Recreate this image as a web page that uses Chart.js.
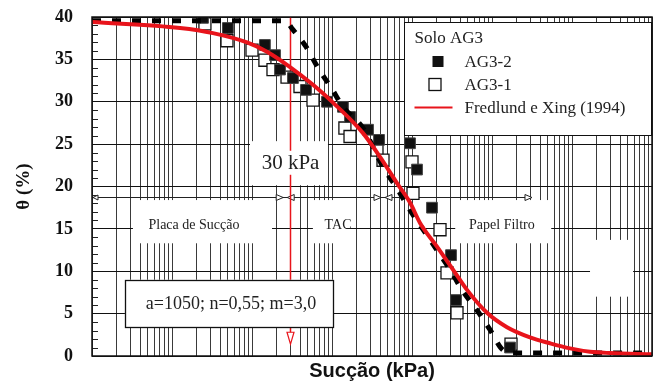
<!DOCTYPE html>
<html><head><meta charset="utf-8">
<script src="https://cdn.jsdelivr.net/npm/chart.js@4"></script>
<style>html,body{margin:0;padding:0;background:#fff;}#wrap{width:656px;height:383px;}</style>
</head><body><div id="wrap"><canvas id="c" width="656" height="383"></canvas></div>
<script>
// ---- data ----
const suctionAG32 = [2.44, 5.0, 14.5, 19.4, 22.4, 32.5, 47.3, 86.6, 137, 168, 282, 387, 944, 1155, 1778, 3073, 3548, 16800];
const thetaAG32   = [39.9, 38.7, 36.7, 35.5, 33.8, 32.8, 31.4, 30.0, 29.4, 28.2, 26.7, 25.5, 25.1, 22.0, 17.5, 11.9, 6.6, 1.0];
const suctionAG31 = [2.58, 4.87, 10, 14.5, 18.3, 27.4, 39.8, 57.9, 145, 168, 365, 434, 1000, 1029, 2239, 2738, 3652, 17280];
const thetaAG31   = [39.2, 37.2, 36.1, 34.9, 33.8, 32.9, 31.8, 30.2, 26.9, 25.9, 24.3, 23.1, 22.9, 19.2, 14.9, 9.8, 5.1, 1.4];
const suctionFX = [0.1, 1.26, 3.25, 8.66, 15.4, 29.9, 57.9, 103, 244, 398, 649, 944, 1259, 2054, 3254, 4870, 8660, 15400, 29854, 53100, 94400, 168000, 298500, 1000000];
const thetaFX   = [39.4, 38.7, 38.1, 37.0, 35.9, 34.1, 32.0, 29.9, 26.3, 23.5, 20.4, 18.1, 15.7, 12.9, 10.2, 7.8, 5.1, 3.4, 2.2, 1.5, 0.9, 0.5, 0.35, 0.2];
const suctionDash = [0.1, 25.8, 32.5, 47.3, 66.8, 100, 137, 244, 434, 668, 944, 1454, 2054, 2985, 4217, 6494, 9441, 13725, 19400, 1000000];
const thetaDash   = [39.55, 39.55, 38.5, 36.5, 34.0, 31.5, 29.4, 26.9, 22.3, 19.6, 17.2, 14.6, 12.5, 10.2, 7.8, 5.4, 3.1, 0.7, 0.35, 0.35];
const yTickValues = [0, 5, 10, 15, 20, 25, 30, 35, 40];
const xDecades = [0.1, 1, 10, 100, 1000, 10000, 100000];
const xMultipliers = [1, 2, 3, 4, 5, 6, 7, 8, 9];
const rangeBounds = [0.1, 26, 434, 31600];
const rangeLabels = ['Placa de Sucção', 'TAC', 'Papel Filtro'];
const rangeLabelAt = [1.88, 119, 13300];
const markSuction = 30;
const markLabel = '30 kPa';
const paramText = 'a=1050; n=0,55; m=3,0';
const legendTitle = 'Solo AG3';

const toPts = (xs, ys) => xs.map((v, i) => ({x: v, y: ys[i]}));
const xGrid = [];
xDecades.forEach(d => xMultipliers.forEach(m => xGrid.push(+(d * m).toPrecision(3))));
xGrid.push(1000000);

const SERIF = '"Liberation Serif", "Times New Roman", serif';

function tri(ctx, xTip, yc, dir, len, half) {
  ctx.beginPath();
  ctx.moveTo(xTip, yc);
  ctx.lineTo(xTip - dir * len, yc - half);
  ctx.lineTo(xTip - dir * len, yc + half);
  ctx.closePath();
  ctx.fillStyle = '#fff'; ctx.fill(); ctx.stroke();
}

const overlay = {
  id: 'overlay',
  beforeDatasetsDraw(chart) {
    const {ctx, chartArea: a, scales: {x, y}} = chart;
    const X = v => x.getPixelForValue(v), Y = v => y.getPixelForValue(v);
    ctx.save();
    // minor y ticks
    ctx.strokeStyle = '#222'; ctx.lineWidth = 1;
    for (let v = 1; v < 40; v++) {
      if (v % 5 === 0) continue;
      const py = Math.round(Y(v)) + 0.5;
      ctx.beginPath(); ctx.moveTo(a.left, py); ctx.lineTo(a.left + 6, py); ctx.stroke();
    }
    // white patches behind annotation texts
    ctx.fillStyle = '#fff';
    const rect = (x0, x1, t0, t1) => ctx.fillRect(X(x0), Y(t1), X(x1) - X(x0), Y(t0) - Y(t1));
    rect(9.44, 89, 20.15, 25.35);          // 30 kPa area
    rect(0.325, 17.8, 13.3, 18.4);         // Placa de Sucção
    rect(57.7, 150, 13.3, 18.4);           // TAC
    rect(3470, 55000, 13.3, 18.4);         // Papel Filtro
    rect(168000, 580000, 7.0, 13.7);       // blank area right
    // horizontal ranges line with arrows
    const ay = Math.round(Y(18.8)) + 0.5;
    ctx.strokeStyle = '#222'; ctx.lineWidth = 1;
    ctx.beginPath(); ctx.moveTo(a.left, ay); ctx.lineTo(X(rangeBounds[3]), ay); ctx.stroke();
    tri(ctx, a.left + 1, ay, -1, 5, 2.5);
    [rangeBounds[1], rangeBounds[2]].forEach(b => {
      const bx = X(b);
      tri(ctx, bx - 2, ay, 1, 7, 3);
      tri(ctx, bx + 2, ay, -1, 7, 3);
    });
    tri(ctx, X(rangeBounds[3]), ay, 1, 7, 3);
    // red vertical line at 30 kPa
    const mx = Math.round(X(markSuction)) + 0.5;
    ctx.strokeStyle = '#e8141b'; ctx.lineWidth = 1.5;
    ctx.beginPath(); ctx.moveTo(mx, a.top); ctx.lineTo(mx, Y(2.8)); ctx.stroke();
    ctx.lineWidth = 1.2;
    ctx.beginPath();
    ctx.moveTo(mx - 3.5, Y(2.8)); ctx.lineTo(mx + 3.5, Y(2.8)); ctx.lineTo(mx, Y(1.4)); ctx.closePath();
    ctx.fillStyle = '#fff'; ctx.fill(); ctx.stroke();
    // 30 kPa label
    ctx.font = '21px ' + SERIF;
    ctx.textAlign = 'center'; ctx.textBaseline = 'middle';
    const tw = ctx.measureText(markLabel).width;
    ctx.fillStyle = '#fff';
    ctx.fillRect(mx - tw / 2 - 3, Y(22.8) - 12, tw + 6, 24);
    ctx.fillStyle = '#222';
    ctx.fillText(markLabel, mx, Y(22.8) + 1);
    // range labels
    ctx.font = '14px ' + SERIF;
    rangeLabels.forEach((t, i) => ctx.fillText(t, X(rangeLabelAt[i]), Y(15.5) + 1));
    // parameter box
    const bx0 = X(0.258), bx1 = X(103), by0 = Y(9.0), by1 = Y(3.4);
    ctx.fillStyle = '#fff';
    ctx.fillRect(bx0, by0, bx1 - bx0, by1 - by0);
    ctx.strokeStyle = '#111'; ctx.lineWidth = 1.3;
    ctx.strokeRect(Math.round(bx0) + 0.5, Math.round(by0) + 0.5, Math.round(bx1 - bx0), Math.round(by1 - by0));
    ctx.fillStyle = '#222';
    ctx.font = '18px ' + SERIF;
    ctx.fillText(paramText, (bx0 + bx1) / 2 + 2, (by0 + by1) / 2 + 1);
    ctx.restore();
  },
  afterDatasetsDraw(chart) {
    const {ctx, chartArea: a, scales: {x, y}} = chart;
    const X = v => x.getPixelForValue(v), Y = v => y.getPixelForValue(v);
    const ds = chart.data.datasets;
    ctx.save();
    // legend box
    const lx0 = Math.round(X(794)) + 0.5, lx1 = a.right - 0.5, ly0 = Math.round(Y(39.4)) + 0.5, ly1 = Math.round(Y(26.1)) + 0.5;
    ctx.fillStyle = '#fff';
    ctx.fillRect(lx0, ly0, lx1 - lx0, ly1 - ly0);
    ctx.strokeStyle = '#111'; ctx.lineWidth = 1;
    ctx.strokeRect(lx0, ly0, lx1 - lx0, ly1 - ly0);
    ctx.fillStyle = '#222'; ctx.textAlign = 'left'; ctx.textBaseline = 'middle';
    ctx.font = '17px ' + SERIF;
    ctx.fillText(legendTitle, lx0 + 10, ly0 + 16);
    const rows = [ds[2], ds[3], ds[0]];
    rows.forEach((d, i) => {
      const ry = ly0 + 39 + i * 23;
      if (i === 0) {
        ctx.fillStyle = d.backgroundColor; ctx.fillRect(lx0 + 28, ry - 5.5, 11, 11);
      } else if (i === 1) {
        ctx.fillStyle = '#fff'; ctx.strokeStyle = d.borderColor; ctx.lineWidth = 1.3;
        ctx.fillRect(lx0 + 24, ry - 6.5, 13, 13); ctx.strokeRect(lx0 + 24.5, ry - 6, 12, 12);
      } else {
        ctx.strokeStyle = d.borderColor; ctx.lineWidth = 2;
        ctx.beginPath(); ctx.moveTo(lx0 + 10, ry); ctx.lineTo(lx0 + 48, ry); ctx.stroke();
      }
      ctx.fillStyle = '#222';
      ctx.fillText(d.label, lx0 + 60, ry + 1);
    });
    // frame
    ctx.strokeStyle = '#111'; ctx.lineWidth = 1.5;
    ctx.strokeRect(a.left, a.top, a.right - a.left, a.bottom - a.top);
    ctx.restore();
  }
};

new Chart(document.getElementById('c'), {
  type: 'scatter',
  data: {
    datasets: [
      {label: 'Fredlund e Xing (1994)', data: toPts(suctionFX, thetaFX), showLine: true,
       borderColor: '#e8141b', borderWidth: 4, pointRadius: 0, cubicInterpolationMode: 'monotone', order: 0},
      {label: 'AG3-2 ajuste', data: toPts(suctionDash, thetaDash), showLine: true,
       borderColor: '#000', borderWidth: 5, borderDash: [9, 11], pointRadius: 0, cubicInterpolationMode: 'monotone', order: 1},
      {label: 'AG3-2', data: toPts(suctionAG32, thetaAG32), pointStyle: 'rect', pointRadius: 7.6,
       backgroundColor: '#111', borderColor: '#444', borderWidth: 1, order: 2},
      {label: 'AG3-1', data: toPts(suctionAG31, thetaAG31), pointStyle: 'rect', pointRadius: 8.5,
       backgroundColor: '#fff', borderColor: '#111', borderWidth: 1.3, order: 3}
    ]
  },
  options: {
    responsive: false, animation: false, devicePixelRatio: 1,
    layout: {padding: {top: 17, right: 4, left: 0, bottom: 0}, autoPadding: false},
    plugins: {legend: {display: false}, tooltip: {enabled: false}},
    scales: {
      x: {
        type: 'logarithmic', min: 0.1, max: 1000000, position: 'bottom',
        afterBuildTicks: s => { s.ticks = xGrid.map(v => ({value: v})); },
        afterFit: s => { s.height = 27; s.paddingLeft = 0; s.paddingRight = 0; s.paddingTop = 0; s.paddingBottom = 0; },
        ticks: {display: false},
        grid: {color: '#3a3a3a', lineWidth: 1, drawTicks: false},
        border: {display: false},
        title: {display: true, text: 'Sucção (kPa)', color: '#111',
                font: {family: '"Liberation Sans", Arial, sans-serif', weight: 'bold', size: 20}, padding: {top: 0, bottom: 0}}
      },
      y: {
        min: 0, max: 40,
        afterBuildTicks: s => { s.ticks = yTickValues.map(v => ({value: v})); },
        afterFit: s => { s.width = 92; s.paddingTop = 0; s.paddingBottom = 0; s.paddingLeft = 0; s.paddingRight = 0; },
        ticks: {padding: 19, color: '#111', font: {family: SERIF, weight: 'bold', size: 18}},
        grid: {color: '#111', lineWidth: 1, drawTicks: false},
        border: {display: false},
        title: {display: true, text: 'θ (%)', color: '#111',
                font: {family: SERIF, weight: 'bold', size: 19}, padding: {top: 13, bottom: 0}}
      }
    }
  },
  plugins: [overlay]
});
</script></body></html>
